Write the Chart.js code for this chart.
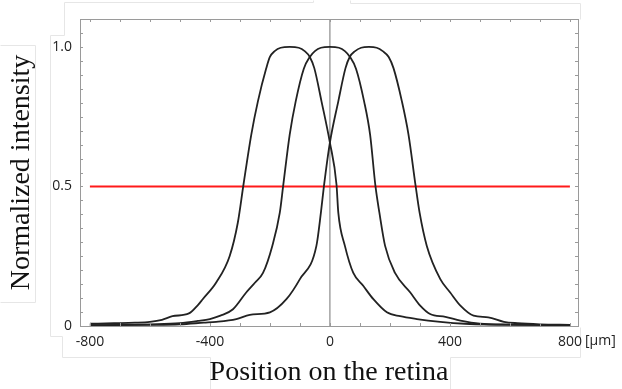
<!DOCTYPE html>
<html>
<head>
<meta charset="utf-8">
<script src="https://cdn.jsdelivr.net/npm/chart.js@4.4.1/dist/chart.umd.min.js"></script>
<style>
  html, body { margin: 0; padding: 0; background: #fff; }
  #wrap { width: 622px; height: 389px; }
</style>
</head>
<body>
<div id="wrap"><canvas id="chart" width="622" height="389"></canvas></div>
<script>
// profiles (position in um, normalized intensity)
const leftX = [-800, -720, -650, -600, -560, -525, -470, -440, -424, -379, -334, -307, -288, -262, -240, -212, -200, -184, -164, -134, -104, -84, -67, -52, -28, 0, 22, 28, 50, 78, 111, 145, 190, 234, 290, 368, 450, 550, 650, 800];
const leftY = [0.008, 0.01, 0.012, 0.015, 0.022, 0.035, 0.045, 0.075, 0.096, 0.156, 0.251, 0.37, 0.507, 0.686, 0.805, 0.924, 0.964, 0.985, 0.997, 1.0, 0.997, 0.985, 0.964, 0.924, 0.805, 0.657, 0.507, 0.406, 0.287, 0.19, 0.144, 0.096, 0.049, 0.035, 0.025, 0.015, 0.008, 0.005, 0.004, 0.003];

const centerX = [-800, -700, -600, -500, -440, -400, -365, -323, -279, -250, -223, -192, -167, -156, -134, -114, -87, -67, -50, -30, 0, 30, 50, 67, 87, 114, 134, 152, 165, 184, 217, 268, 301, 334, 385, 435, 500, 600, 700, 800];
const centerY = [0.003, 0.004, 0.006, 0.01, 0.018, 0.025, 0.037, 0.06, 0.12, 0.155, 0.19, 0.287, 0.406, 0.5, 0.686, 0.805, 0.922, 0.964, 0.985, 0.997, 1.0, 0.997, 0.985, 0.964, 0.922, 0.805, 0.686, 0.5, 0.406, 0.287, 0.19, 0.12, 0.073, 0.043, 0.033, 0.019, 0.008, 0.005, 0.004, 0.003];

const rightX = [-800, -600, -500, -420, -379, -312, -267, -200, -145, -100, -45, -30, -20, 0, 28, 52, 66, 84, 104, 130, 156, 176, 196, 212, 240, 262, 286, 299, 323, 368, 401, 435, 479, 528, 580, 625, 700, 800];
const rightY = [0.003, 0.004, 0.006, 0.012, 0.015, 0.025, 0.04, 0.049, 0.096, 0.168, 0.287, 0.406, 0.5, 0.657, 0.805, 0.924, 0.964, 0.985, 0.997, 1.0, 0.997, 0.985, 0.964, 0.924, 0.805, 0.686, 0.5, 0.406, 0.287, 0.168, 0.12, 0.073, 0.037, 0.031, 0.015, 0.01, 0.006, 0.004];

// half-maximum line and the centre marker
const halfX = [-800, 800];
const halfY = [0.5, 0.5];
const zeroX = [0, 0];
const zeroY = [0, 1.1];

const xTicks = [-800, -400, 0, 400, 800];
const yTicks = [0, 0.5, 1.0];
const yTickLabels = ["0", "0.5", "1.0"];

const zip = (xs, ys) => xs.map((x, i) => ({ x: x, y: ys[i] }));

const curve = (xs, ys) => ({
  data: zip(xs, ys),
  borderColor: "#222",
  borderWidth: 1.8,
  pointRadius: 0,
  cubicInterpolationMode: "monotone",
});

// faint edges of the pasted panels in the original figure
const pasteEdges = [
  [[0, 45], [35, 45], [35, 302], [0, 302]],
  [[313, 0], [313, 1.5], [64, 1.5], [64, 35], [50, 35], [50, 336], [62, 336], [62, 357], [210, 357], [210, 389]],
  [[350, 0], [350, 2.5], [580, 2.5], [580, 19]],
  [[450, 389], [450, 357], [580, 357], [580, 327]],
];

const framePlugin = {
  id: "frame",
  beforeDraw(chart) {
    const ctx = chart.ctx;
    ctx.save();
    ctx.strokeStyle = "#e6e6e6";
    ctx.lineWidth = 1;
    pasteEdges.forEach((pts) => {
      ctx.beginPath();
      pts.forEach(([x, y], i) => {
        const px = Math.round(x) + 0.5, py = Math.round(y) + 0.5;
        if (i === 0) ctx.moveTo(px, py); else ctx.lineTo(px, py);
      });
      ctx.stroke();
    });
    ctx.restore();
  },
  afterDraw(chart) {
    const { ctx, chartArea: a, scales } = chart;
    ctx.save();
    ctx.strokeStyle = "#9a9a9a";
    ctx.lineWidth = 1;
    ctx.beginPath();
    for (let v = -800; v <= 800; v += 100) {
      const px = Math.round(scales.x.getPixelForValue(v)) + 0.5;
      ctx.moveTo(px, a.top); ctx.lineTo(px, a.top + 3);
      ctx.moveTo(px, a.bottom); ctx.lineTo(px, a.bottom - 3);
    }
    for (let i = 0; i <= 22; i++) {
      const py = Math.round(scales.y.getPixelForValue(i * 0.05)) + 0.5;
      ctx.moveTo(a.left, py); ctx.lineTo(a.left + 3, py);
      ctx.moveTo(a.right, py); ctx.lineTo(a.right - 3, py);
    }
    ctx.stroke();
    ctx.strokeRect(Math.round(a.left) + 0.5, Math.round(a.top) + 0.5,
      Math.round(a.right - a.left), Math.round(a.bottom - a.top));

    ctx.fillStyle = "#222";
    ctx.font = "14px 'Open Sans'";
    ctx.textBaseline = "middle";
    ctx.textAlign = "left";
    ctx.fillText("[\u03bcm]", a.right + 7, a.bottom + 15);
    ctx.restore();
  },
};

new Chart(document.getElementById("chart"), {
  type: "line",
  data: {
    datasets: [
      curve(leftX, leftY),
      curve(centerX, centerY),
      curve(rightX, rightY),
      {
        data: zip(halfX, halfY),
        borderColor: "#ff1a1a",
        borderWidth: 2,
        pointRadius: 0,
      },
      {
        data: zip(zeroX, zeroY),
        borderColor: "#8c8c8c",
        borderWidth: 1.2,
        pointRadius: 0,
      },
    ],
  },
  options: {
    responsive: false,
    animation: false,
    layout: { padding: { top: 19, right: 44, left: 0, bottom: 0 } },
    plugins: { legend: { display: false }, tooltip: { enabled: false } },
    scales: {
      x: {
        type: "linear",
        min: -833,
        max: 827,
        grid: { display: false, drawTicks: false },
        border: { display: false },
        afterBuildTicks: (s) => { s.ticks = xTicks.map((v) => ({ value: v })); },
        afterFit: (s) => { s.height = 63; },
        ticks: {
          padding: 8,
          color: "#222",
          font: { family: "Open Sans", size: 14 },
          callback: (v) => String(v),
        },
        title: {
          display: true,
          text: "Position on the retina",
          color: "#111",
          font: { family: "Liberation Serif", size: 28 },
          padding: { top: 0, bottom: 0 },
        },
      },
      y: {
        type: "linear",
        min: 0,
        max: 1.1,
        grid: { display: false, drawTicks: false },
        border: { display: false },
        afterBuildTicks: (s) => { s.ticks = yTicks.map((v) => ({ value: v })); },
        afterFit: (s) => { s.width = 80; },
        ticks: {
          padding: 8,
          color: "#222",
          font: { family: "Open Sans", size: 14 },
          callback: (v) => yTickLabels[yTicks.indexOf(v)],
        },
        title: {
          display: true,
          text: "Normalized intensity",
          color: "#111",
          font: { family: "Liberation Serif", size: 28 },
          padding: { top: 5, bottom: 0 },
        },
      },
    },
  },
  plugins: [framePlugin],
});
</script>
</body>
</html>
